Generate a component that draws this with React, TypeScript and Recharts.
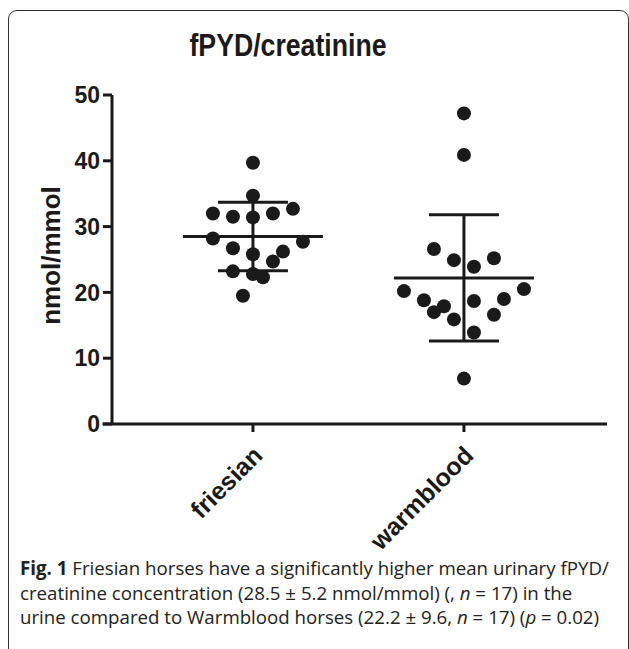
import React from "react";
import {
  ComposedChart,
  ErrorBar,
  ReferenceLine,
  Scatter,
  XAxis,
  YAxis,
} from "recharts";

// Groups and per-horse values.
const groups = ["friesian", "warmblood"];
const friesianValues = [39.7, 34.7, 32.0, 31.5, 31.4, 32.0, 32.7, 28.2, 27.7, 26.7, 25.8, 26.2, 24.7, 23.2, 22.8, 22.3, 19.5];
const warmbloodValues = [47.2, 40.9, 26.6, 24.9, 23.9, 25.2, 20.2, 18.8, 17.9, 17.0, 15.9, 18.7, 19.0, 20.5, 16.6, 13.9, 6.9];
// Horizontal scatter slot of each dot (swarm layout), one slot = SLOT category units.
const friesianSlots = [0, 0, -4, -2, 0, 2, 4, -4, 5, -2, 0, 3, 2, -2, 0, 1, -1];
const warmbloodSlots = [0, 0, -3, -1, 1, 3, -6, -4, -2, -3, -1, 1, 4, 6, 3, 1, 0];
const means = [28.5, 22.2];
const sds = [5.2, 9.6];
const yTicks = [0, 10, 20, 30, 40, 50];

const SLOT = 0.0474;
const X_DOMAIN: [number, number] = [0.332, 2.678];
const INK = "#1a1a1a";
const SANS = "'Liberation Sans', Arial, Helvetica, sans-serif";

const friesianPts = friesianValues.map((v, i) => ({ x: 1 + friesianSlots[i] * SLOT, y: v }));
const warmbloodPts = warmbloodValues.map((v, i) => ({ x: 2 + warmbloodSlots[i] * SLOT, y: v }));
const summary = means.map((m, i) => ({ x: i + 1, y: m, sd: sds[i] }));

const Dot = (p: any) => <circle cx={p.cx} cy={p.cy} r={7} fill={INK} />;
const MeanBar = (p: any) => (
  <line x1={p.cx - 70} x2={p.cx + 70} y1={p.cy} y2={p.cy} stroke={INK} strokeWidth={3} />
);

const XTick = (p: any) => {
  const x = p.x + 11;
  const y = p.y + 23;
  return (
    <text
      x={x}
      y={y}
      transform={`rotate(-45, ${x}, ${y})`}
      textAnchor="end"
      fontFamily={SANS}
      fontWeight="bold"
      fontSize={25}
      fill={INK}
    >
      {groups[p.payload.value - 1]}
    </text>
  );
};

const YLabel = (p: any) => {
  const vb = p.viewBox;
  const cx = vb.x + 51;
  const cy = vb.y + vb.height / 2 - 4;
  return (
    <text
      x={cx}
      y={cy}
      transform={`rotate(-90, ${cx}, ${cy})`}
      textAnchor="middle"
      dominantBaseline="central"
      fontFamily={SANS}
      fontWeight="bold"
      fontSize={26}
      fill={INK}
    >
      nmol/mmol
    </text>
  );
};

export default function App() {
  return (
    <div
      style={{
        position: "absolute",
        left: 0,
        top: 0,
        width: 629,
        height: 649,
        overflow: "hidden",
        background: "#fff",
      }}
    >
      {/* figure frame: only top, left and right edges show in the crop */}
      <div
        style={{
          position: "absolute",
          left: 8,
          top: 10,
          width: 621,
          height: 660,
          boxSizing: "border-box",
          border: "1.5px solid #333",
          borderRadius: 9,
        }}
      />
      <div
        style={{
          position: "absolute",
          left: 0,
          width: 576,
          top: 30,
          textAlign: "center",
          fontFamily: SANS,
          fontWeight: "bold",
          fontSize: 31,
          lineHeight: "31px",
          color: INK,
          transform: "scaleX(0.86)",
        }}
      >
        fPYD/creatinine
      </div>
      <div style={{ position: "absolute", left: 0, top: 0 }}>
        <ComposedChart
          width={629}
          height={555}
          margin={{ top: 95, right: 22, bottom: 0, left: 0 }}
        >
          <XAxis
            type="number"
            dataKey="x"
            domain={X_DOMAIN}
            ticks={[1, 2]}
            allowDataOverflow
            height={131}
            tickSize={8}
            tick={<XTick />}
            axisLine={{ stroke: INK, strokeWidth: 3 }}
            tickLine={{ stroke: INK, strokeWidth: 3 }}
          />
          <YAxis
            type="number"
            dataKey="y"
            domain={[0, 50]}
            ticks={yTicks}
            width={112}
            tickSize={9}
            tickMargin={3}
            tick={{ fill: INK, fontSize: 23, fontWeight: "bold", fontFamily: SANS }}
            axisLine={{ stroke: INK, strokeWidth: 3 }}
            tickLine={{ stroke: INK, strokeWidth: 3 }}
            label={<YLabel />}
          />
          <ReferenceLine
            segment={[
              { x: X_DOMAIN[0] - 0.045, y: 0 },
              { x: X_DOMAIN[0], y: 0 },
            ]}
            ifOverflow="visible"
            stroke={INK}
            strokeWidth={3}
          />
          <Scatter data={summary} shape={<MeanBar />} isAnimationActive={false}>
            <ErrorBar
              dataKey="sd"
              direction="y"
              width={35}
              stroke={INK}
              strokeWidth={3}
              isAnimationActive={false}
            />
          </Scatter>
          <Scatter data={friesianPts} shape={<Dot />} isAnimationActive={false} />
          <Scatter data={warmbloodPts} shape={<Dot />} isAnimationActive={false} />
        </ComposedChart>
      </div>
      <div
        style={{
          position: "absolute",
          left: 20,
          top: 556,
          fontFamily: "'Open Sans', 'Noto Sans', sans-serif",
          fontSize: 18.7,
          lineHeight: "24.5px",
          color: "#222",
          whiteSpace: "nowrap",
        }}
      >
        <b>Fig. 1</b> Friesian horses have a significantly higher mean urinary fPYD/
        <br />
        creatinine concentration (28.5 ± 5.2 nmol/mmol) (, <i>n</i> = 17) in the
        <br />
        urine compared to Warmblood horses (22.2 ± 9.6, <i>n</i> = 17) (<i>p</i> = 0.02)
      </div>
    </div>
  );
}
